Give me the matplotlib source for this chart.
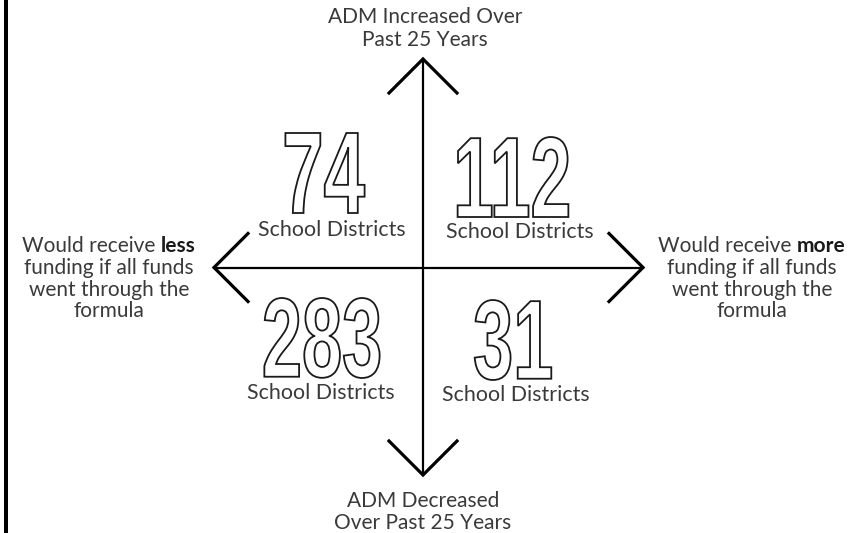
import matplotlib
matplotlib.use("Agg")
import matplotlib.pyplot as plt
from matplotlib.textpath import TextPath
from matplotlib.patches import PathPatch
from matplotlib.font_manager import FontProperties
from matplotlib.transforms import Affine2D

# ---------------- data ----------------
counts = [74, 112, 283, 31]                      # up-left, up-right, down-left, down-right
count_label = "School Districts"
top_lines = ["ADM Increased Over", "Past 25 Years"]
bottom_lines = ["ADM Decreased", "Over Past 25 Years"]
left_lines = [("Would receive", "less"), "funding if all funds", "went through the", "formula"]
right_lines = [("Would receive", "more"), "funding if all funds", "went through the", "formula"]

# ---------------- layout ----------------
W, H, DPI = 868, 533, 100
TXT = "#3a3a3a"
FONT = "Lato"
PX = 72.0 / DPI          # points per pixel

num_centers = [(325, 213), (513, 217), (322, 378), (513, 380)]   # (center x, baseline y)
lbl_centers = [(332, 230), (520, 232), (321, 393), (516, 395)]
NUM_H = 80
CONDENSE = 0.64
FS = 15.0      # axis titles and side text
LFS = 15.4     # "School Districts"

fig = plt.figure(figsize=(W / DPI, H / DPI), dpi=DPI)
ax = fig.add_axes([0, 0, 1, 1])
ax.set_xlim(0, W)
ax.set_ylim(H, 0)
ax.axis("off")

# left border
ax.plot([6, 6], [0, H], color="black", lw=4 * PX, solid_capstyle="butt")

# axes with arrowheads
cx, cy = 423, 267.5
top, bot, lft, rgt = 59, 475, 214, 643
arm = 34
lw_axis = 2.2 * PX
lw_arm = 3.2 * PX
ax.plot([cx, cx], [top, bot], color="black", lw=lw_axis)
ax.plot([lft, rgt], [cy, cy], color="black", lw=lw_axis)
ax.plot([cx - arm, cx, cx + arm], [top + arm, top, top + arm], color="black", lw=lw_arm, solid_joinstyle="miter")
ax.plot([cx - arm, cx, cx + arm], [bot - arm, bot, bot - arm], color="black", lw=lw_arm, solid_joinstyle="miter")
ax.plot([lft + arm, lft, lft + arm], [cy - arm, cy, cy + arm], color="black", lw=lw_arm, solid_joinstyle="miter")
ax.plot([rgt - arm, rgt, rgt - arm], [cy - arm, cy, cy + arm], color="black", lw=lw_arm, solid_joinstyle="miter")

# top / bottom labels (baselines)
for ln, y in zip(top_lines, [23, 46]):
    ax.text(cx + 2, y, ln, ha="center", va="baseline", fontsize=FS, family=FONT, color=TXT)
for ln, y in zip(bottom_lines, [507, 529]):
    ax.text(cx, y, ln, ha="center", va="baseline", fontsize=FS, family=FONT, color=TXT)

# outlined numbers
nprop = FontProperties(family="Liberation Sans", weight="bold")
for val, (ncx, nby) in zip(counts, num_centers):
    tp = TextPath((0, 0), str(val), prop=nprop, size=1)
    ext = tp.get_extents()
    s = NUM_H / ext.height
    tr = (Affine2D().translate(-(ext.x0 + ext.width / 2), -ext.y0)
          .scale(s * CONDENSE, -s).translate(ncx, nby))
    ax.add_patch(PathPatch(tr.transform_path(tp), facecolor="white",
                           edgecolor="#1a1a1a", lw=1.3))

for (lx, ly) in lbl_centers:
    ax.text(lx, ly, count_label, ha="center", va="center", fontsize=LFS,
            family=FONT, color=TXT)

# side labels
fig.canvas.draw()
renderer = fig.canvas.get_renderer()


def width_px(s, **kw):
    t = ax.text(0, 0, s, fontsize=FS, family=FONT, **kw)
    w = t.get_window_extent(renderer).width
    t.remove()
    return w


space = width_px("x x") - width_px("xx")
line_ys = [246, 268, 290, 311]
for lines, scx in ((left_lines, 109), (right_lines, 752)):
    for ln, y in zip(lines, line_ys):
        if isinstance(ln, tuple):
            reg, bold = ln
            w1 = width_px(reg)
            w2 = width_px(bold, weight="bold")
            x0 = scx - (w1 + space + w2) / 2
            ax.text(x0, y, reg, ha="left", va="center", fontsize=FS, family=FONT, color=TXT)
            ax.text(x0 + w1 + space, y, bold, ha="left", va="center", fontsize=FS,
                    family=FONT, color="#1a1a1a", weight="bold")
        else:
            ax.text(scx, y, ln, ha="center", va="center", fontsize=FS, family=FONT, color=TXT)

fig.savefig("out.png", dpi=DPI, facecolor="white")
